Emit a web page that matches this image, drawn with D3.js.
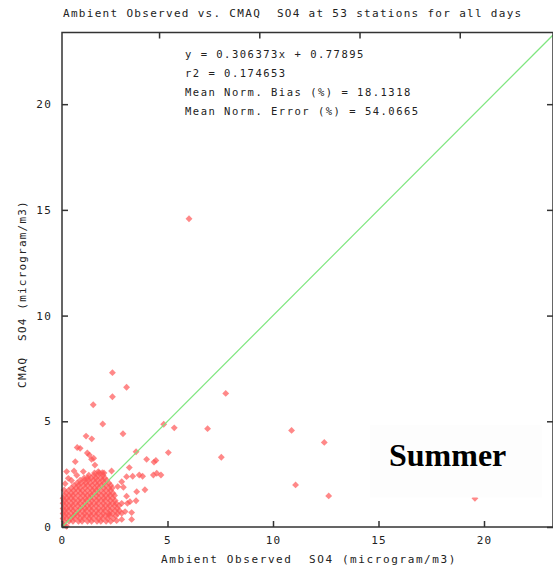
<!DOCTYPE html>
<html>
<head>
<meta charset="utf-8">
<script src="https://cdn.jsdelivr.net/npm/d3@7"></script>
<style>
  body { margin: 0; background: #fff; }
  svg text { font-family: "DejaVu Sans Mono", monospace; fill: #222; white-space: pre; }
</style>
</head>
<body>
<svg id="chart" width="553" height="573"></svg>
<script>
// axis ranges and ticks
var xMax = 23.27, yMax = 23.39;
var tickVals = [0, 5, 10, 15, 20];
var topTicks = [4.6, 9.35, 14.1, 18.85];

var statLines = [
  "y = 0.306373x + 0.77895",
  "r2 = 0.174653",
  "Mean Norm. Bias (%) = 18.1318",
  "Mean Norm. Error (%) = 54.0665"
];

// scattered points outside the dense cluster [observed, cmaq]
var outliers = [
  [6.02,14.58],[2.39,7.30],[3.06,6.61],[2.39,6.16],[7.76,6.32],[1.48,5.78],[1.93,4.87],
  [2.89,4.41],[4.82,4.86],[5.32,4.69],[6.90,4.65],[10.88,4.57],[12.43,4.00],[11.07,1.99],
  [12.64,1.47],[19.57,1.36],[1.14,4.30],[1.41,4.17],[0.72,3.76],[0.86,3.72],[1.20,3.50],
  [3.51,3.56],[5.04,3.52],[0.63,3.09],[1.40,3.20],[1.50,3.25],[4.01,3.20],[4.45,3.15],
  [4.36,3.07],[7.55,3.30],[3.19,2.81],[1.56,2.93],[0.22,2.62],[0.57,2.65],[1.01,2.62],
  [1.72,2.62],[1.91,2.57],[2.35,2.65],[3.06,2.38],[3.35,2.40],[3.66,2.46],[3.82,2.40],
  [4.33,2.46],[4.49,2.54],[4.69,2.46],[2.83,2.14],[2.64,1.91],[2.91,1.88],[3.93,1.76],
  [3.54,1.67],[3.06,1.46],[3.51,1.24],[3.22,1.20],[2.83,1.12],[3.10,1.12],[2.99,0.73],
  [3.30,0.68],[2.83,0.65],[2.24,0.61],[2.59,0.30],[2.83,0.36],[3.30,0.36],[0.22,0.03],
  [0.10,0.10],[0.30,2.30],[0.15,2.05],[0.45,2.20],[0.10,1.75],[0.70,2.45],[1.30,3.40]
];

// dense cluster, one entry per cmaq level: [cmaq, observed values]
var cluster = [
  [0.27, [0.10,0.33,0.52,0.78,0.95,1.21,1.40,1.66,1.84,2.09,2.31]],
  [0.40, [0.05,0.22,0.41,0.60,0.85,1.04,1.29,1.49,1.73,1.92,2.16,2.43]],
  [0.53, [0.12,0.31,0.55,0.74,0.99,1.18,1.37,1.62,1.86,2.06,2.25,2.55]],
  [0.64, [0.05,0.20,0.44,0.63,0.82,1.07,1.31,1.51,1.70,1.95,2.19,2.40,2.64]],
  [0.77, [0.10,0.29,0.53,0.77,0.96,1.15,1.40,1.64,1.84,2.03,2.28,2.52,2.72]],
  [0.88, [0.05,0.23,0.42,0.61,0.86,1.10,1.30,1.49,1.73,1.97,2.17,2.38,2.62]],
  [1.01, [0.12,0.32,0.51,0.75,0.99,1.19,1.38,1.62,1.86,2.06,2.25,2.50,2.70]],
  [1.12, [0.05,0.21,0.45,0.65,0.84,1.08,1.32,1.52,1.71,1.96,2.20,2.40,2.57]],
  [1.25, [0.10,0.30,0.54,0.78,0.98,1.17,1.41,1.65,1.85,2.04,2.29,2.52]],
  [1.36, [0.05,0.23,0.43,0.62,0.87,1.11,1.31,1.50,1.74,1.98,2.18,2.40]],
  [1.49, [0.12,0.33,0.52,0.76,1.00,1.20,1.39,1.63,1.87,2.07,2.27,2.49]],
  [1.60, [0.20,0.44,0.64,0.88,1.09,1.33,1.53,1.72,1.97,2.21,2.42]],
  [1.73, [0.31,0.55,0.77,0.96,1.21,1.45,1.64,1.84,2.08,2.30]],
  [1.84, [0.44,0.66,0.86,1.10,1.34,1.54,1.73,1.98,2.22,2.38]],
  [1.97, [0.57,0.78,1.02,1.21,1.43,1.67,1.87,2.07,2.31]],
  [2.08, [0.72,0.90,1.13,1.33,1.57,1.77,1.99,2.22]],
  [2.21, [0.86,1.06,1.24,1.48,1.68,1.92,2.12]],
  [2.32, [1.05,1.22,1.38,1.60,1.84,2.02]],
  [2.45, [1.27,1.52,1.71,1.95]],
  [2.56, [1.54,1.76,1.99]]
];

var svg = d3.select("#chart");
var x = d3.scaleLinear().domain([0, xMax]).range([62, 553]);
var y = d3.scaleLinear().domain([0, yMax]).range([527, 32.5]);

var points = outliers.slice();
cluster.forEach(function(row) {
  row[1].forEach(function(v) { points.push([v, row[0]]); });
});

// points as diamonds
svg.append("g").selectAll("path")
  .data(points)
  .enter()
  .append("path")
  .attr("d", d3.symbol().type(d3.symbolDiamond2).size(30))
  .attr("transform", function(d) { return "translate(" + x(d[0]) + "," + y(d[1]) + ")"; })
  .attr("fill", "#ff5555")
  .attr("fill-opacity", 0.7);

// 1:1 line
svg.append("line")
  .attr("x1", x(0)).attr("y1", y(0))
  .attr("x2", x(xMax)).attr("y2", y(xMax))
  .attr("stroke", "#7fe67f")
  .attr("stroke-width", 1.2);

// season label box
svg.append("rect")
  .attr("x", 370).attr("y", 425).attr("width", 172).attr("height", 72.5)
  .attr("fill", "#fdfdfd");
svg.append("text")
  .attr("x", 389).attr("y", 466)
  .style("font-family", "'Liberation Serif', 'Times New Roman', serif")
  .style("font-weight", "bold")
  .style("font-size", "32px")
  .style("fill", "#000")
  .text("Summer");

// frame
svg.append("rect")
  .attr("x", x(0)).attr("y", y(yMax))
  .attr("width", x(xMax) - x(0)).attr("height", y(0) - y(yMax))
  .attr("fill", "none").attr("stroke", "#333").attr("stroke-width", 1.5);

function styleAxis(g) {
  g.select(".domain").remove();
  g.selectAll(".tick line").attr("stroke", "#333").attr("stroke-width", 1.5);
  g.selectAll("text")
    .style("font-family", "'DejaVu Sans Mono', monospace")
    .style("font-size", "11px")
    .style("letter-spacing", "1.2px")
    .attr("fill", "#222");
}

svg.append("g").attr("transform", "translate(0," + y(0) + ")")
  .call(d3.axisBottom(x).tickValues(tickVals).tickSizeInner(-6).tickSizeOuter(0).tickPadding(9))
  .call(styleAxis);
svg.append("g").attr("transform", "translate(" + x(0) + ",0)")
  .call(d3.axisLeft(y).tickValues(tickVals).tickSizeInner(-6).tickSizeOuter(0).tickPadding(10))
  .call(styleAxis);
svg.append("g").attr("transform", "translate(" + x(xMax) + ",0)")
  .call(d3.axisRight(y).tickValues(tickVals).tickSizeInner(-6).tickSizeOuter(0).tickFormat(""))
  .call(styleAxis);
svg.append("g").attr("transform", "translate(0," + y(yMax) + ")")
  .call(d3.axisTop(x).tickValues(topTicks).tickSizeInner(-6).tickSizeOuter(0).tickFormat(""))
  .call(styleAxis);

// titles
svg.append("text")
  .attr("x", 63).attr("y", 17)
  .style("font-size", "11px").style("letter-spacing", "1.3px")
  .text("Ambient Observed vs. CMAQ  SO4 at 53 stations for all days");

svg.append("text")
  .attr("x", 309).attr("y", 563)
  .attr("text-anchor", "middle")
  .style("font-size", "11px").style("letter-spacing", "1.6px")
  .text("Ambient Observed  SO4 (microgram/m3)");

svg.append("text")
  .attr("transform", "translate(26,294) rotate(-90)")
  .attr("text-anchor", "middle")
  .style("font-size", "11px").style("letter-spacing", "1.2px")
  .text("CMAQ  SO4 (microgram/m3)");

svg.append("g").selectAll("text")
  .data(statLines)
  .enter()
  .append("text")
  .attr("x", 185)
  .attr("y", function(d, i) { return 57.5 + i * 19.3; })
  .style("font-size", "10.5px").style("letter-spacing", "1.5px")
  .text(function(d) { return d; });
</script>
</body>
</html>
